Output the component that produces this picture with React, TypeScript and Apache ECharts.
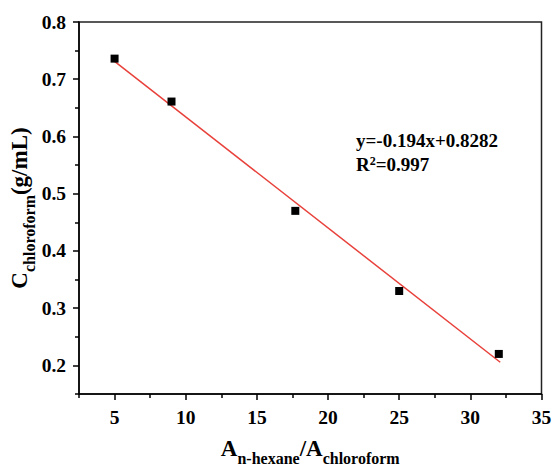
import React, { useEffect, useRef } from "react";
import * as echarts from "echarts";

const ratioX = [5, 9, 17.7, 25, 32.0];
const concY = [0.736, 0.661, 0.47, 0.33, 0.22];
const fitSlope = -0.0194;
const fitIntercept = 0.8282;
const fitRangeX = [5, 32.1];
const xMajorTicks = [5, 10, 15, 20, 25, 30, 35];
const xMinorTicks = [2.5, 7.5, 12.5, 17.5, 22.5, 27.5, 32.5];
const yMajorTicks = [0.2, 0.3, 0.4, 0.5, 0.6, 0.7, 0.8];
const yMinorTicks = [0.15, 0.25, 0.35, 0.45, 0.55, 0.65, 0.75];
const equationText = "y=-0.194x+0.8282";
const r2Text = "=0.997";

const FONT = "Times New Roman, serif";

export default function App() {
  const ref = useRef<HTMLDivElement>(null);
  useEffect(() => {
    if (!ref.current) return;
    const chart = echarts.init(ref.current, null, { renderer: "svg" });
    const fitData = fitRangeX.map((x) => [x, fitIntercept + fitSlope * x]);
    const labelStyle = {
      fontSize: 19.5,
      fontWeight: "bold" as const,
      fontFamily: FONT,
      color: "#000",
    };
    const nameRich = {
      A: {
        fontSize: 23,
        lineHeight: 23,
        fontWeight: "bold",
        fontFamily: FONT,
        color: "#000",
        padding: [0, 0, 6, 0],
        verticalAlign: "bottom",
      },
      s: {
        fontSize: 16,
        lineHeight: 16,
        fontWeight: "bold",
        fontFamily: FONT,
        color: "#000",
        verticalAlign: "bottom",
      },
    };
    const axisLine = { show: true, onZero: false, lineStyle: { color: "#000", width: 1.5 } };
    chart.setOption({
      animation: false,
      backgroundColor: "#fff",
      textStyle: { fontFamily: FONT },
      grid: {
        left: 79,
        top: 22,
        right: 10.5,
        bottom: 74,
        containLabel: false,
        outerBoundsMode: "none",
        show: true,
        borderColor: "#222",
        borderWidth: 1.5,
        backgroundColor: "transparent",
      },
      xAxis: [
        {
          type: "value",
          min: 2.5,
          max: 35,
          position: "bottom",
          axisLine,
          axisTick: { show: true, length: 6, customValues: xMajorTicks, lineStyle: { color: "#000", width: 1.5 } },
          axisLabel: { ...labelStyle, margin: 13, customValues: xMajorTicks },
          splitLine: { show: false },
          name: "{A|A}{s|n-hexane}{A|/A}{s|chloroform}",
          nameLocation: "middle",
          nameGap: 49,
          nameTextStyle: { fontFamily: FONT, rich: nameRich },
        },
        {
          type: "value",
          min: 2.5,
          max: 35,
          position: "bottom",
          axisLine: { show: false, onZero: false },
          axisTick: { show: true, length: 4, customValues: xMinorTicks, lineStyle: { color: "#000", width: 1.5 } },
          axisLabel: { show: false },
          splitLine: { show: false },
        },
      ],
      yAxis: [
        {
          type: "value",
          min: 0.15,
          max: 0.8,
          position: "left",
          axisLine,
          axisTick: { show: true, length: 6, customValues: yMajorTicks, lineStyle: { color: "#000", width: 1.5 } },
          axisLabel: {
            ...labelStyle,
            margin: 13,
            customValues: yMajorTicks,
            formatter: (v: number) => v.toFixed(1),
          },
          splitLine: { show: false },
          name: "{A|C}{s|chloroform}{A|(g/mL)}",
          nameLocation: "middle",
          nameGap: 42,
          nameMoveOverlap: false,
          nameRotate: 90,
          nameTextStyle: { fontFamily: FONT, rich: nameRich },
        },
        {
          type: "value",
          min: 0.15,
          max: 0.8,
          position: "left",
          axisLine: { show: false, onZero: false },
          axisTick: { show: true, length: 4, customValues: yMinorTicks, lineStyle: { color: "#000", width: 1.5 } },
          axisLabel: { show: false },
          splitLine: { show: false },
        },
      ],
      series: [
        {
          type: "line",
          data: fitData,
          xAxisIndex: 0,
          yAxisIndex: 0,
          symbol: "none",
          lineStyle: { color: "#e8413b", width: 1.5 },
          z: 2,
        },
        {
          type: "scatter",
          data: ratioX.map((x, i) => [x, concY[i]]),
          xAxisIndex: 0,
          yAxisIndex: 0,
          symbol: "rect",
          symbolSize: 8,
          itemStyle: { color: "#000", opacity: 1 },
          z: 3,
        },
      ],
      graphic: [
        {
          type: "text",
          left: 356,
          top: 131,
          style: {
            text: equationText,
            fontSize: 19,
            fontWeight: "bold",
            fontFamily: FONT,
            fill: "#000",
          },
        },
        {
          type: "text",
          left: 356,
          top: 155,
          style: {
            text: `{b|R}{sup|2}{b|${r2Text}}`,
            fontFamily: FONT,
            fill: "#000",
            rich: {
              b: { fontSize: 19, lineHeight: 19, fontWeight: "bold", fontFamily: FONT, fill: "#000", verticalAlign: "bottom" },
              sup: { fontSize: 12, lineHeight: 12, fontWeight: "bold", fontFamily: FONT, fill: "#000", verticalAlign: "top" },
            },
          },
        },
      ],
    });
    return () => chart.dispose();
  }, []);
  return (
    <div
      ref={ref}
      style={{ position: "fixed", left: 0, top: 0, width: 552, height: 468 }}
    />
  );
}
